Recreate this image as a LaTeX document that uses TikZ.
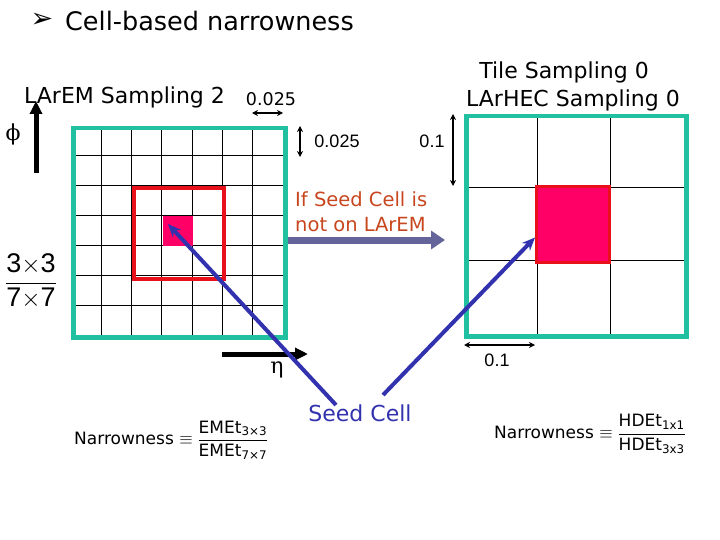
\documentclass[tikz,border=0pt]{standalone}
\usepackage{fontspec}
\usepackage{amsmath}
\setmainfont{DejaVu Sans}
\newfontfamily\arialf{Liberation Sans}
\newfontfamily\greekf{DejaVu Serif}
\usetikzlibrary{arrows.meta,calc}
\definecolor{gridgreen}{RGB}{32,192,160}
\definecolor{boxred}{RGB}{232,16,26}
\definecolor{seedpink}{RGB}{255,0,102}
\definecolor{seedblue}{RGB}{50,50,175}
\definecolor{grayarrow}{RGB}{100,100,155}
\definecolor{notered}{RGB}{200,70,30}
\tikzset{
  gridline/.style={black, line width=1},
  gridframe/.style={draw=gridgreen, line width=4.5, anchor=north west, inner sep=0},
  dimarrow/.style={black, line width=1.8, {Stealth[length=6,width=6]}-{Stealth[length=6,width=6]}},
  bigarrow/.style={black, line width=5, -{Triangle[length=13,width=12]}},
  seedarrow/.style={seedblue, line width=4, -{Stealth[length=13,width=11]}},
  lbl/.style={inner sep=0, font=\fontsize{22}{26}\selectfont},
  alabel/.style={inner sep=0, font=\arialf\fontsize{18}{21}\selectfont},
}
\begin{document}
\begin{tikzpicture}[x=1pt,y=-1pt]
\useasboundingbox (0,0) rectangle (720,540);
% title
\node[inner sep=0, font=\fontsize{27}{30}\selectfont] (bullet) at (42,20) {➢};
\node[inner sep=0, anchor=west, font=\fontsize{25.5}{29}\selectfont] (title) at (65,21) {Cell-based narrowness};
% left grid
\foreach \i in {1,...,6} {
  \draw[gridline] ({71+\i*212/7},126) -- ({71+\i*212/7},335);
  \draw[gridline] (71,{126+\i*209/7}) -- (283,{126+\i*209/7});
}
\node[gridframe, minimum width=212, minimum height=209] (emgrid) at (71,126) {};
\node[draw=boxred, line width=4, anchor=north west, inner sep=0, minimum width=90, minimum height=91] (box33) at (132,186) {};
\node[fill=seedpink, anchor=north west, inner sep=0, minimum width=30, minimum height=30] (seedem) at (163,216) {};
% right grid
\foreach \i in {1,2} {
  \draw[gridline] ({464+\i*220/3},114) -- ({464+\i*220/3},334);
  \draw[gridline] (464,{114+\i*220/3}) -- (684,{114+\i*220/3});
}
\node[gridframe, minimum width=220, minimum height=220] (hecgrid) at (464,114) {};
\node[fill=seedpink, draw=boxred, line width=3, anchor=north west, inner sep=0, minimum width=73, minimum height=76] (seedhec) at (535,185) {};
% labels left
\node[lbl, anchor=west] (larem) at (24,97) {LArEM Sampling 2};
\node[inner sep=0, font=\fontsize{17.5}{20}\selectfont] (dimtop) at (271,99) {0.025};
\coordinate (dt1) at (252,113);
\coordinate (dt2) at (283,113);
\draw[dimarrow] (dt1) -- (dt2);
\coordinate (dv1) at (300,126);
\coordinate (dv2) at (300,157);
\draw[dimarrow] (dv1) -- (dv2);
\node[alabel] (dimside) at (337,141) {0.025};
\node[inner sep=0, font=\greekf\fontsize{22}{26}\selectfont] (phi) at (13,134) {ϕ};
\coordinate (phi1) at (36,173);
\coordinate (phi2) at (36,101);
\draw[bigarrow] (phi1) -- (phi2);
\coordinate (eta1) at (222,354);
\coordinate (eta2) at (308,354);
\draw[bigarrow] (eta1) -- (eta2);
\node[inner sep=0, font=\greekf\fontsize{22}{26}\selectfont] (eta) at (277,370) {η};
\node[inner sep=0, font=\arialf\fontsize{27}{30}\selectfont] (frac) at (31,281) {$\dfrac{\text{3}{\times}\text{3}}{\text{7}{\times}\text{7}}$};
% right labels
\node[lbl] (tile) at (564,72) {Tile Sampling 0};
\node[lbl] (larhec) at (573,100) {LArHEC Sampling 0};
\coordinate (hv1) at (453,114);
\coordinate (hv2) at (453,186);
\draw[dimarrow] (hv1) -- (hv2);
\node[alabel] (hvl) at (432,141) {0.1};
\coordinate (hh1) at (464,345);
\coordinate (hh2) at (535,345);
\draw[dimarrow] (hh1) -- (hh2);
\node[alabel] (hhl) at (497,360) {0.1};
% middle note
\node[inner sep=0, anchor=north west, align=left, text=notered, font=\fontsize{19.5}{25}\selectfont] (note) at (295,191) {If Seed Cell is\\not on LArEM};
\coordinate (g1) at (288,240);
\coordinate (g2) at (445,240);
\draw[grayarrow, line width=7, -{Triangle[length=14,width=18]}] (g1) -- (g2);
% seed cell
\node[inner sep=0, text=seedblue, font=\fontsize{22}{26}\selectfont] (seed) at (360,413) {Seed Cell};
\coordinate (s1) at (336,405);
\coordinate (s2) at (383,395);
\draw[seedarrow] (s1) -- ($(seedem.north west)+(5,8)$);
\draw[seedarrow] (s2) -- ($(seedhec.west)+(0,13)$);
% formulas
\node[inner sep=0, anchor=west, font=\fontsize{17}{20}\selectfont] (narrem) at (74,440) {Narrowness $\equiv\dfrac{\text{EMEt}_{\text{3×3}}}{\text{EMEt}_{\text{7×7}}}$};
\node[inner sep=0, anchor=west, font=\fontsize{17}{20}\selectfont] (narrhec) at (494,434) {Narrowness $\equiv\dfrac{\text{HDEt}_{\text{1x1}}}{\text{HDEt}_{\text{3x3}}}$};
\end{tikzpicture}
\end{document}
